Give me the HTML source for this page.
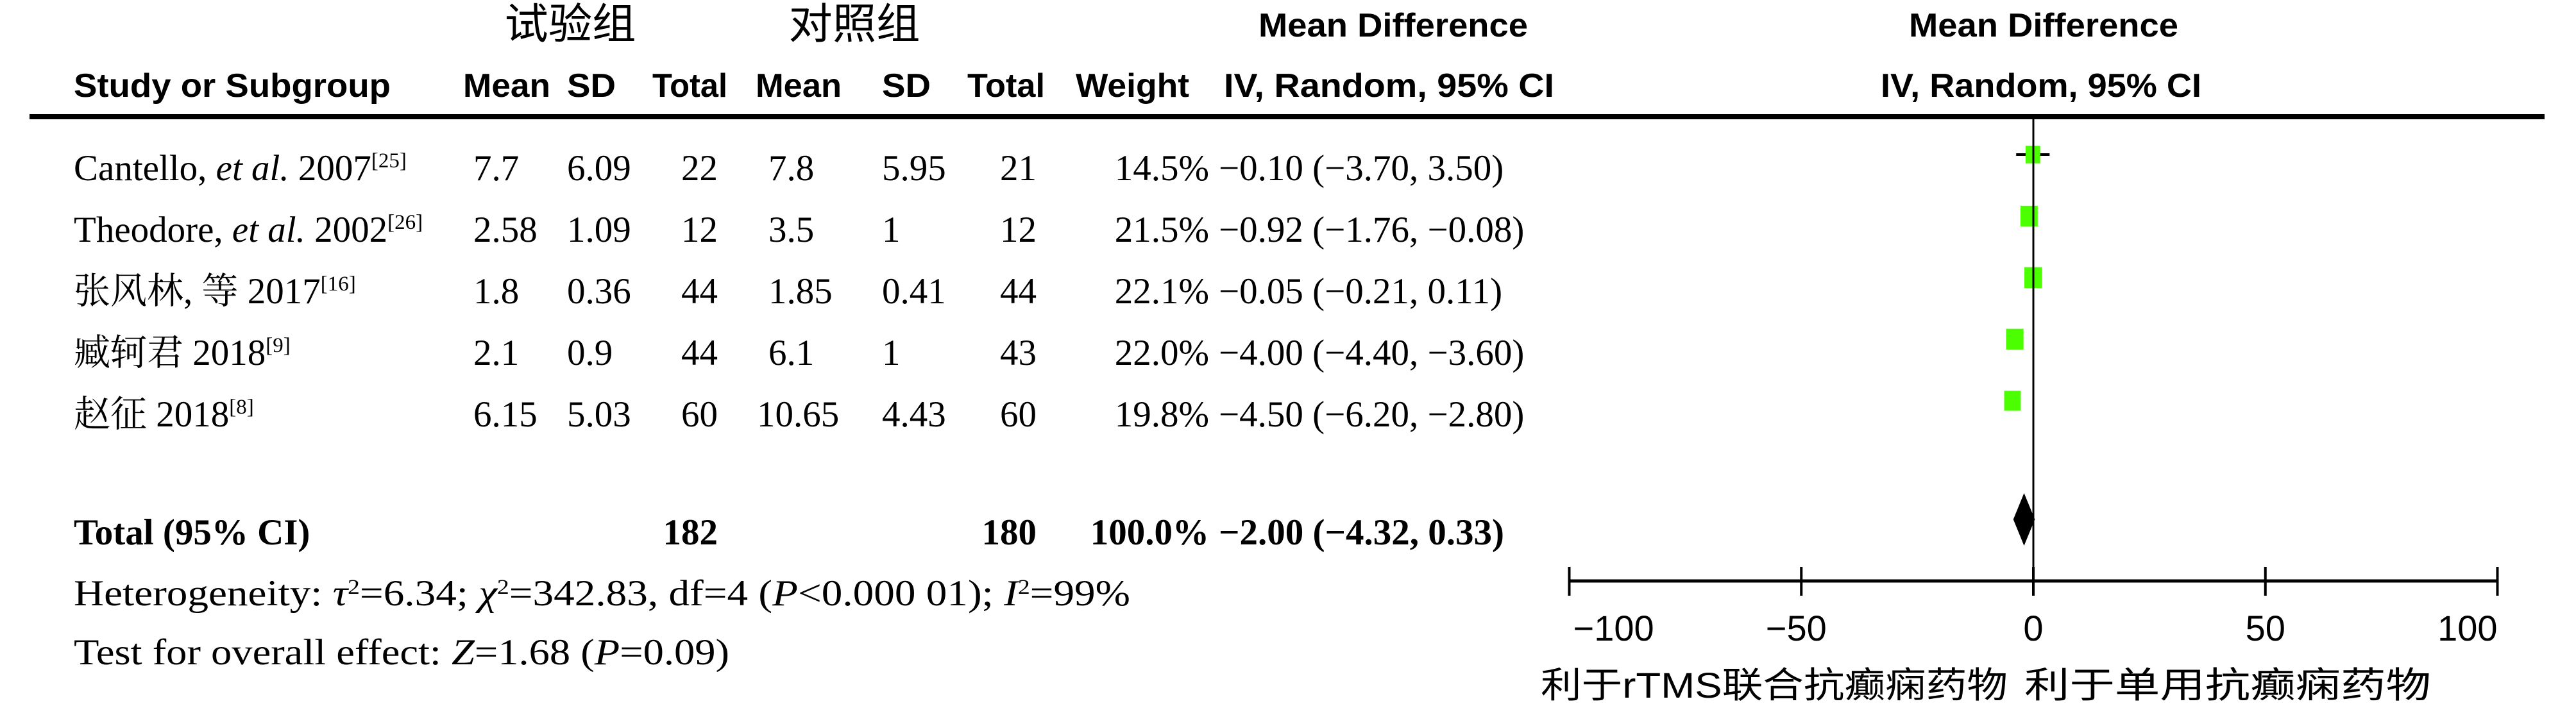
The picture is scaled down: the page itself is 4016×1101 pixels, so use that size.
<!DOCTYPE html>
<html><head><meta charset="utf-8">
<style>
html,body{margin:0;padding:0;background:#fff;}
svg{display:block;}
.h{font-family:"Liberation Sans Narrow","Liberation Sans","Noto Sans CJK SC",sans-serif;font-weight:bold;font-size:52px;fill:#000;}
.hc{font-family:"Liberation Sans","Noto Sans CJK SC",sans-serif;font-size:66px;fill:#000;}
.t{font-family:"Liberation Serif","Noto Serif CJK SC",serif;font-size:57px;fill:#000;}
.b{font-weight:bold;}
.sup{font-size:33px;}
.ax{font-family:"Liberation Sans Narrow","Liberation Sans",sans-serif;font-size:56px;fill:#000;}
.cn{font-family:"Liberation Sans","Noto Sans CJK SC",sans-serif;font-size:56px;fill:#000;}
</style></head>
<body>
<svg id="chart" width="4016" height="1101" viewBox="0 0 4016 1101" xmlns="http://www.w3.org/2000/svg">
<g>
<text class="hc" x="889" y="60" text-anchor="middle" textLength="205" lengthAdjust="spacingAndGlyphs">试验组</text>
<text class="hc" x="1332" y="60" text-anchor="middle" textLength="205" lengthAdjust="spacingAndGlyphs">对照组</text>
<text class="h" x="2172" y="57" text-anchor="middle" textLength="420" lengthAdjust="spacingAndGlyphs">Mean Difference</text>
<text class="h" x="3186" y="57" text-anchor="middle" textLength="420" lengthAdjust="spacingAndGlyphs">Mean Difference</text>
<text class="h" x="115" y="151" textLength="494" lengthAdjust="spacingAndGlyphs">Study or Subgroup</text>
<text class="h" x="722" y="151" textLength="136" lengthAdjust="spacingAndGlyphs">Mean</text>
<text class="h" x="884" y="151" textLength="76" lengthAdjust="spacingAndGlyphs">SD</text>
<text class="h" x="1017" y="151" textLength="117" lengthAdjust="spacingAndGlyphs">Total</text>
<text class="h" x="1178" y="151" textLength="134" lengthAdjust="spacingAndGlyphs">Mean</text>
<text class="h" x="1375" y="151" textLength="76" lengthAdjust="spacingAndGlyphs">SD</text>
<text class="h" x="1508" y="151" textLength="121" lengthAdjust="spacingAndGlyphs">Total</text>
<text class="h" x="1677" y="151" textLength="177" lengthAdjust="spacingAndGlyphs">Weight</text>
<text class="h" x="1908" y="151" textLength="515" lengthAdjust="spacingAndGlyphs">IV, Random, 95% CI</text>
<text class="h" x="2932" y="151" textLength="500" lengthAdjust="spacingAndGlyphs">IV, Random, 95% CI</text>
<rect x="46" y="178" width="3921" height="8" fill="#000"/>
</g>
<g id="rows"></g>
<g id="plot"></g>
<g>
<text class="t" x="115" y="944" textLength="1647" lengthAdjust="spacingAndGlyphs">Heterogeneity: <tspan font-style="italic">τ</tspan><tspan class="sup" dy="-18">2</tspan><tspan dy="18">=6.34; </tspan><tspan font-style="italic">χ</tspan><tspan class="sup" dy="-18">2</tspan><tspan dy="18">=342.83, df=4 (</tspan><tspan font-style="italic">P</tspan>&lt;0.000 01); <tspan font-style="italic">I</tspan><tspan class="sup" dy="-18">2</tspan><tspan dy="18">=99%</tspan></text>
<text class="t" x="115" y="1036" textLength="1022" lengthAdjust="spacingAndGlyphs">Test for overall effect: <tspan font-style="italic">Z</tspan>=1.68 (<tspan font-style="italic">P</tspan>=0.09)</text>
<text class="cn" x="2402" y="1088" textLength="728" lengthAdjust="spacingAndGlyphs">利于rTMS联合抗癫痫药物</text>
<text class="cn" x="3156" y="1088" textLength="634" lengthAdjust="spacingAndGlyphs">利于单用抗癫痫药物</text>
</g>
</svg>
<script>
const studies = ["Cantello, et al. 2007", "Theodore, et al. 2002", "张风林, 等 2017", "臧轲君 2018", "赵征 2018"];
const refs = ["[25]", "[26]", "[16]", "[9]", "[8]"];
const expMean = ["7.7", "2.58", "1.8", "2.1", "6.15"];
const expSD = ["6.09", "1.09", "0.36", "0.9", "5.03"];
const expTotal = [22, 12, 44, 44, 60];
const ctlMean = ["7.8", "3.5", "1.85", "6.1", "10.65"];
const ctlSD = ["5.95", "1", "0.41", "1", "4.43"];
const ctlTotal = [21, 12, 44, 43, 60];
const weights = [14.5, 21.5, 22.1, 22.0, 19.8];
const md = [-0.10, -0.92, -0.05, -4.00, -4.50];
const ciLow = [-3.70, -1.76, -0.21, -4.40, -6.20];
const ciHigh = [3.50, -0.08, 0.11, -3.60, -2.80];
const totalMd = -2.00, totalLow = -4.32, totalHigh = 0.33;
const ticks = [-100, -50, 0, 50, 100];

const NS = "http://www.w3.org/2000/svg";
function xs(v){ return 3170 + v * 7.235; }
function rowY(i){ return 263 + i * 96; }
function fmt(v){ return (v < 0 ? "\u2212" : "") + Math.abs(v).toFixed(2); }
function mk(tag, attrs, parent){ const e = document.createElementNS(NS, tag); for (const k in attrs) e.setAttribute(k, attrs[k]); parent.appendChild(e); return e; }

const rows = document.getElementById('rows');
const plot = document.getElementById('plot');
const nameItalic = [true, true, false, false, false];

studies.forEach((s, i) => {
  const y = rowY(i) + 18;
  const t = mk('text', {class: 't', x: 115, y: y}, rows);
  
  
  if (nameItalic[i]) {
    const parts = s.split('et al.');
    t.appendChild(document.createTextNode(parts[0]));
    const it = mk('tspan', {'font-style': 'italic'}, t); it.textContent = 'et al.';
    t.appendChild(document.createTextNode(parts[1]));
  } else t.textContent = s;
  const sp = mk('tspan', {class: 'sup', dy: -20}, t); sp.textContent = refs[i];
  const cells = [[expMean[i], 738, 'start', 'exp-mean'], [expSD[i], 884, 'start', 'exp-sd'], [String(expTotal[i]), 1119, 'end', 'exp-total'],
    [ctlMean[i], ctlMean[i].length > 4 ? 1180 : 1198, 'start', 'ctl-mean'], [ctlSD[i], 1375, 'start', 'ctl-sd'], [String(ctlTotal[i]), 1616, 'end', 'ctl-total'],
    [weights[i].toFixed(1) + '%', 1885, 'end', 'weight'], [fmt(md[i]) + ' (' + fmt(ciLow[i]) + ', ' + fmt(ciHigh[i]) + ')', 1900, 'start', 'ci-text']];
  cells.forEach(c => {
    const e = mk('text', {class: 't', x: c[1], y: y, 'text-anchor': c[2]}, rows);
    e.textContent = c[0];
    
    
  });
  const cy = rowY(i) - 22;
  const l = mk('line', {x1: xs(ciLow[i]), x2: xs(ciHigh[i]), y1: cy, y2: cy, stroke: '#000', 'stroke-width': 4}, plot);
  
  
  const sz = 14 + weights[i] * 0.6;
  const r = mk('rect', {x: xs(md[i]) - sz / 2, y: cy - sz * 0.6, width: sz, height: sz * 1.2, fill: '#4cff00'}, plot);
  
  
});

const ty = 849;
[['Total (95% CI)', 115, 'start', 'total-label'], ['182', 1119, 'end', 'exp-grand-total'], ['180', 1616, 'end', 'ctl-grand-total'], ['100.0%', 1885, 'end', 'total-weight'],
 [fmt(totalMd) + ' (' + fmt(totalLow) + ', ' + fmt(totalHigh) + ')', 1900, 'start', 'total-ci-text']].forEach(c => {
  const e = mk('text', {class: 't b', x: c[1], y: ty, 'text-anchor': c[2]}, rows);
  e.textContent = c[0];
  
  
});
const d = mk('polygon', {points: `${xs(totalLow)},810 ${xs(totalMd)},769 ${xs(totalHigh)},810 ${xs(totalMd)},851`, fill: '#000'}, plot);



const z = mk('line', {x1: xs(0), x2: xs(0), y1: 186, y2: 906, stroke: '#000', 'stroke-width': 3}, plot);


const ax = mk('line', {x1: xs(ticks[0]), x2: xs(ticks[ticks.length - 1]), y1: 906, y2: 906, stroke: '#000', 'stroke-width': 5}, plot);


ticks.forEach((v, i) => {
  const tk = mk('line', {x1: xs(v), x2: xs(v), y1: 884, y2: 929, stroke: '#000', 'stroke-width': 4}, plot);
  
  
  const anchor = i === 0 ? 'start' : (i === ticks.length - 1 ? 'end' : 'middle');
  const lb = mk('text', {class: 'ax', x: xs(v) + (i === 0 ? 6 : 0) - (v < 0 && anchor === 'middle' ? 8 : 0), y: 999, 'text-anchor': anchor}, plot);
  lb.textContent = (v < 0 ? '\u2212' : '') + Math.abs(v);
  
  
});
</script>
</body></html>
